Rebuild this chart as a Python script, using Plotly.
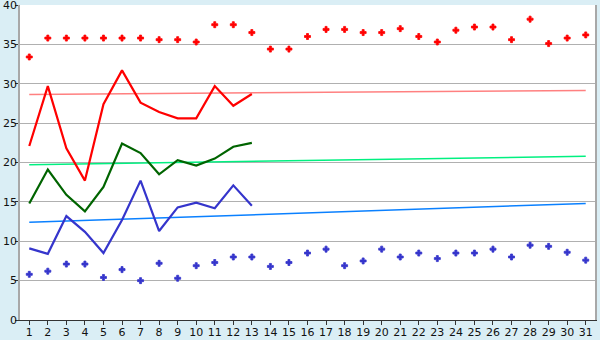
import plotly.graph_objects as go

days = list(range(1, 32))
days_line = list(range(1, 14))

red_dots = [33.4, 35.8, 35.8, 35.8, 35.8, 35.8, 35.8, 35.6, 35.6, 35.3,
            37.5, 37.5, 36.5, 34.4, 34.4, 36.0, 36.9, 36.9, 36.5, 36.5,
            37.0, 36.0, 35.3, 36.8, 37.2, 37.2, 35.6, 38.2, 35.1, 35.8, 36.2]
blue_dots = [5.8, 6.2, 7.1, 7.1, 5.4, 6.4, 5.0, 7.2, 5.3, 6.9,
             7.3, 8.0, 8.0, 6.8, 7.3, 8.5, 9.0, 6.9, 7.5, 9.0,
             8.0, 8.5, 7.8, 8.5, 8.5, 9.0, 8.0, 9.5, 9.35, 8.6, 7.6]
red_line = [22.1, 29.7, 21.8, 17.7, 27.4, 31.7, 27.6, 26.4, 25.6, 25.6, 29.7, 27.2, 28.7]
green_line = [14.8, 19.1, 15.9, 13.8, 16.9, 22.4, 21.2, 18.5, 20.3, 19.6, 20.5, 22.0, 22.5]
blue_line = [9.1, 8.4, 13.2, 11.2, 8.5, 12.7, 17.7, 11.3, 14.3, 14.9, 14.2, 17.1, 14.5]

trend_x = [1, 31]
red_trend = [28.65, 29.15]
green_trend = [19.7, 20.8]
blue_trend = [12.4, 14.8]

fig = go.Figure()
fig.add_trace(go.Scatter(x=trend_x, y=red_trend, mode="lines",
                         line=dict(color="#ff8080", width=1.5)))
fig.add_trace(go.Scatter(x=trend_x, y=green_trend, mode="lines",
                         line=dict(color="#00f080", width=1.5)))
fig.add_trace(go.Scatter(x=trend_x, y=blue_trend, mode="lines",
                         line=dict(color="#0a80ff", width=1.5)))
fig.add_trace(go.Scatter(x=days_line, y=red_line, mode="lines",
                         line=dict(color="#ff0000", width=2.2)))
fig.add_trace(go.Scatter(x=days_line, y=green_line, mode="lines",
                         line=dict(color="#006400", width=2.2)))
fig.add_trace(go.Scatter(x=days_line, y=blue_line, mode="lines",
                         line=dict(color="#3535cc", width=2.2)))
fig.add_trace(go.Scatter(x=days, y=red_dots, mode="markers",
                         marker=dict(symbol="cross", size=5, color="#ff0000",
                                     line=dict(color="#ff0000", width=0.8))))
fig.add_trace(go.Scatter(x=days, y=blue_dots, mode="markers",
                         marker=dict(symbol="cross", size=5, color="#3535cc",
                                     line=dict(color="#3535cc", width=0.8))))

fig.update_layout(
    width=600, height=340,
    margin=dict(l=20, r=5, t=5, b=20),
    paper_bgcolor="#daeef5",
    plot_bgcolor="#ffffff",
    showlegend=False,
    font=dict(family="DejaVu Sans", size=11, color="#111111"),
)
fig.update_xaxes(
    range=[0.5, 31.5], tickmode="linear", tick0=1, dtick=1,
    showgrid=False, showline=True, linecolor="#333333", linewidth=1,
    ticks="outside", ticklen=4, tickcolor="#333333", zeroline=False,
    automargin=False, ticklabelstandoff=-2, ticklabeloverflow="allow",
)
fig.update_yaxes(
    range=[0, 40], tickmode="linear", tick0=0, dtick=5,
    showgrid=True, gridcolor="#b0b0b0", gridwidth=1,
    showline=True, linecolor="#a8a8a8", linewidth=1.5, mirror=True,
    ticks="outside", ticklen=3, tickcolor="#333333", zeroline=False,
    automargin=False, ticklabelstandoff=-4, ticklabeloverflow="allow",
)

fig.write_html("out.html")
